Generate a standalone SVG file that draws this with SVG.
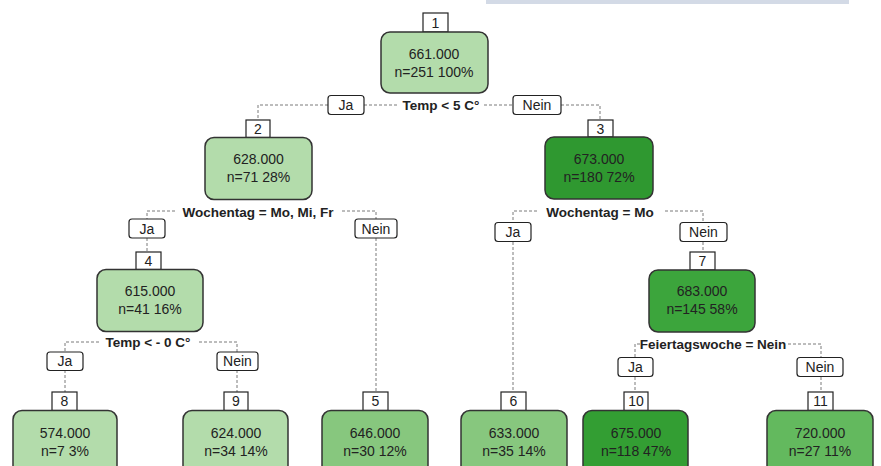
<svg xmlns="http://www.w3.org/2000/svg" width="881" height="466" viewBox="0 0 881 466">
<style>
.bg{fill:#ffffff}
.node{stroke:#333333;stroke-width:1.5}
.lab{fill:#ffffff;stroke:#222222;stroke-width:1.2}
.t{font-family:"Liberation Sans",Arial,sans-serif;font-size:14px;fill:#222222;text-anchor:middle}
.s{font-family:"Liberation Sans",Arial,sans-serif;font-size:13.5px;font-weight:bold;fill:#222222;text-anchor:middle}
.e{fill:none;stroke:#7a7a7a;stroke-width:1;stroke-dasharray:3,2}
.c1{fill:#b3dcab}.c2{fill:#87c77e}.c3{fill:#2f9830}.c4{fill:#3ca53c}.c5{fill:#339e33}.c6{fill:#63b95e}
</style>
<rect class="bg" x="0" y="0" width="881" height="466"/>
<rect x="486" y="0" width="363" height="4" fill="#d3dae6"/>
<g id="connectors">
<path class="e" d="M328,105 H258 V120 M364,105 H397 M484,105 H513 M561,105 H600 V120"/>
<path class="e" d="M175,211 H147 V219 M147,238 V252 M342,211 H376 V219 M376,238 V393"/>
<path class="e" d="M537,211 H513 V222 M513,242 V393 M665,211 H703 V222 M703,242 V252"/>
<path class="e" d="M99,342 H65 V352 M65,370 V392 M199,342 H237 V352 M237,370 V392"/>
<path class="e" d="M640,344 H635 V357 M635,377 V392 M788,344 H821 V357 M821,377 V392"/>
</g>
<g id="edge-labels">
<rect class="lab" x="328" y="95.5" width="36" height="19" rx="3"/><text class="t" x="346" y="110">Ja</text>
<text class="s" x="441" y="110">Temp &lt; 5 C°</text>
<rect class="lab" x="513" y="95.5" width="48" height="19" rx="3"/><text class="t" x="537" y="110">Nein</text>
<rect class="lab" x="129" y="219" width="36" height="19" rx="3"/><text class="t" x="147" y="233.5">Ja</text>
<text class="s" x="258" y="217">Wochentag = Mo, Mi, Fr</text>
<rect class="lab" x="355" y="219" width="42" height="19" rx="3"/><text class="t" x="376" y="233.5">Nein</text>
<rect class="lab" x="495" y="222.5" width="36" height="19" rx="3"/><text class="t" x="513" y="237">Ja</text>
<text class="s" x="600" y="217">Wochentag = Mo</text>
<rect class="lab" x="680" y="222.5" width="47" height="19" rx="3"/><text class="t" x="703.5" y="237">Nein</text>
<rect class="lab" x="47" y="352" width="36" height="18.5" rx="3"/><text class="t" x="65" y="366">Ja</text>
<text class="s" x="148" y="347">Temp &lt; - 0 C°</text>
<rect class="lab" x="217" y="352" width="41" height="18.5" rx="3"/><text class="t" x="237.5" y="366">Nein</text>
<rect class="lab" x="618" y="357.5" width="35" height="19" rx="3"/><text class="t" x="635.5" y="372">Ja</text>
<text class="s" x="713" y="349">Feiertagswoche = Nein</text>
<rect class="lab" x="797" y="357.5" width="46" height="19" rx="3"/><text class="t" x="820" y="372">Nein</text>
</g>
<g id="node1">
<rect class="lab" x="423" y="13" width="25" height="19"/><text class="t" x="435.5" y="28">1</text>
<rect class="node c1" x="381" y="32" width="107" height="61" rx="9"/>
<text class="t" x="434" y="59">661.000</text><text class="t" x="434" y="77">n=251 100%</text>
</g>
<g id="node2">
<rect class="lab" x="246" y="120" width="24" height="17.5"/><text class="t" x="258" y="134">2</text>
<rect class="node c1" x="205" y="137.5" width="107" height="62" rx="9"/>
<text class="t" x="258.5" y="164">628.000</text><text class="t" x="258.5" y="182">n=71 28%</text>
</g>
<g id="node3">
<rect class="lab" x="588" y="120" width="25" height="17"/><text class="t" x="600.5" y="134">3</text>
<rect class="node c3" x="545" y="137" width="108" height="62" rx="9"/>
<text class="t" x="599" y="164">673.000</text><text class="t" x="599" y="182">n=180 72%</text>
</g>
<g id="node4">
<rect class="lab" x="136" y="252" width="25" height="17.5"/><text class="t" x="148.5" y="266">4</text>
<rect class="node c1" x="97" y="269.5" width="106" height="62" rx="9"/>
<text class="t" x="150" y="296">615.000</text><text class="t" x="150" y="314">n=41 16%</text>
</g>
<g id="node7">
<rect class="lab" x="690" y="252" width="25" height="18"/><text class="t" x="702.5" y="266">7</text>
<rect class="node c4" x="649" y="270" width="106" height="62" rx="9"/>
<text class="t" x="702" y="296">683.000</text><text class="t" x="702" y="314">n=145 58%</text>
</g>
<g id="node8">
<rect class="lab" x="52" y="392" width="25" height="18.5"/><text class="t" x="64.5" y="406">8</text>
<rect class="node c1" x="13" y="410.5" width="104" height="64" rx="9"/>
<text class="t" x="65" y="438">574.000</text><text class="t" x="65" y="456">n=7 3%</text>
</g>
<g id="node9">
<rect class="lab" x="224" y="392" width="24" height="18.5"/><text class="t" x="236" y="406">9</text>
<rect class="node c1" x="183" y="410.5" width="105" height="64" rx="9"/>
<text class="t" x="236" y="438">624.000</text><text class="t" x="236" y="456">n=34 14%</text>
</g>
<g id="node5">
<rect class="lab" x="363" y="392" width="25" height="18.5"/><text class="t" x="375.5" y="406">5</text>
<rect class="node c2" x="322" y="410.5" width="106" height="64" rx="9"/>
<text class="t" x="375" y="438">646.000</text><text class="t" x="375" y="456">n=30 12%</text>
</g>
<g id="node6">
<rect class="lab" x="501" y="392" width="25" height="18.5"/><text class="t" x="513.5" y="406">6</text>
<rect class="node c2" x="461" y="410.5" width="106" height="64" rx="9"/>
<text class="t" x="514" y="438">633.000</text><text class="t" x="514" y="456">n=35 14%</text>
</g>
<g id="node10">
<rect class="lab" x="624" y="392" width="24" height="18.5"/><text class="t" x="636" y="406">10</text>
<rect class="node c5" x="583" y="410.5" width="105" height="64" rx="9"/>
<text class="t" x="636" y="438">675.000</text><text class="t" x="636" y="456">n=118 47%</text>
</g>
<g id="node11">
<rect class="lab" x="808" y="392" width="25" height="18.5"/><text class="t" x="820.5" y="406">11</text>
<rect class="node c6" x="767" y="410.5" width="106" height="64" rx="9"/>
<text class="t" x="820" y="438">720.000</text><text class="t" x="820" y="456">n=27 11%</text>
</g>
</svg>
